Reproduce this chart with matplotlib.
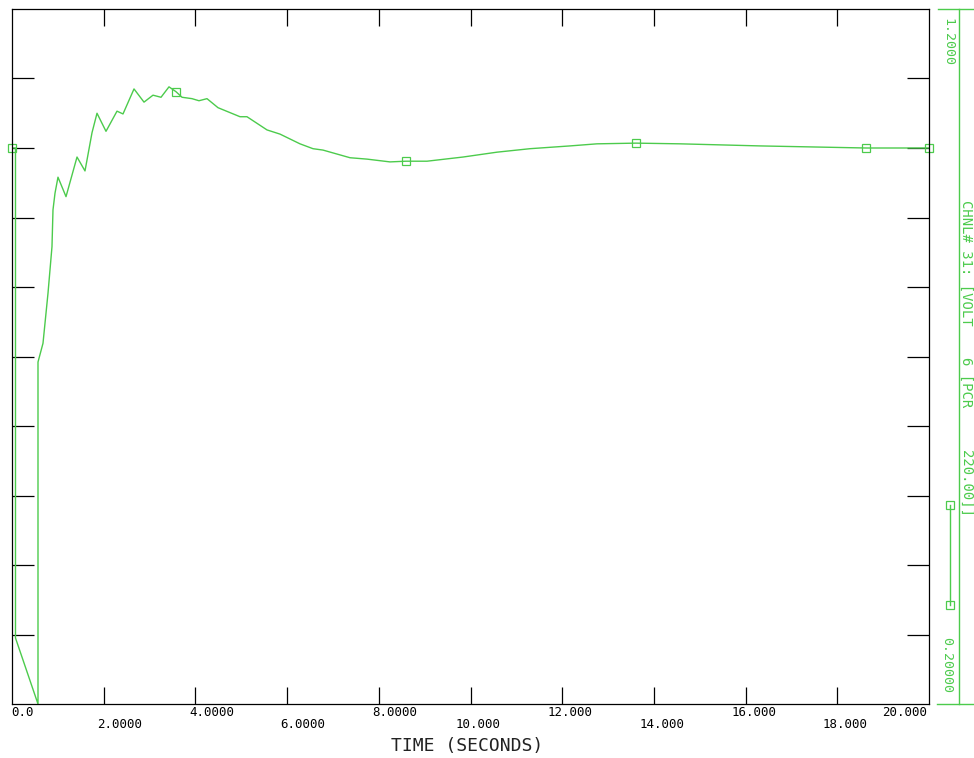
import matplotlib
matplotlib.use('Agg')
import matplotlib.pyplot as plt
from matplotlib.transforms import offset_copy

# response trace (time in seconds, value)
time_s = [0.0, 0.076, 0.076, 0.567, 0.567, 0.676, 0.785, 0.872, 0.894, 0.938,
          1.003, 1.178, 1.418, 1.592, 1.745, 1.854, 2.050, 2.290, 2.421, 2.661,
          2.879, 3.075, 3.250, 3.424, 3.577, 3.708, 3.926, 4.078, 4.253, 4.493,
          4.973, 5.125, 5.562, 5.845, 6.281, 6.565, 6.783, 7.372, 7.743, 8.244,
          8.593, 9.051, 9.836, 10.578, 11.298, 12.170, 12.759, 13.610, 14.570,
          16.314, 18.626, 20.0]
volt = [1.000, 1.000, 0.295, 0.200, 0.692, 0.719, 0.791, 0.858, 0.911, 0.935,
        0.958, 0.930, 0.987, 0.967, 1.022, 1.050, 1.024, 1.053, 1.049, 1.085,
        1.066, 1.076, 1.073, 1.088, 1.081, 1.073, 1.071, 1.068, 1.071, 1.058,
        1.045, 1.045, 1.026, 1.020, 1.006, 0.999, 0.997, 0.986, 0.984, 0.980,
        0.981, 0.981, 0.987, 0.994, 0.999, 1.003, 1.006, 1.007, 1.006,
        1.003, 1.000, 1.000]

mark_t = [0.0, 3.577, 8.593, 13.610, 18.626, 20.0]
mark_v = [1.000, 1.081, 0.981, 1.007, 1.000, 1.000]

x_ticks = [2, 4, 6, 8, 10, 12, 14, 16, 18]
y_ticks = [0.3, 0.4, 0.5, 0.6, 0.7, 0.8, 0.9, 1.0, 1.1]
x_labels = ['0.0', '2.0000', '4.0000', '6.0000', '8.0000', '10.000',
            '12.000', '14.000', '16.000', '18.000', '20.000']
x_label_pos = [0, 2, 4, 6, 8, 10, 12, 14, 16, 18, 20]

y_top_label = '1.2000'
y_bot_label = '0.20000'
chan_parts = ['CHNL# 31: [VOLT', '6 [PCR', '220.00]]']

green = '#4ccb4c'
mono = 'DejaVu Sans Mono'

W, H = 974, 758
fig = plt.figure(figsize=(W / 100, H / 100), dpi=100)
ax = fig.add_axes([12 / W, 54 / H, 917 / W, 695 / H])

ax.plot(time_s, volt, color=green, lw=1.0)
ax.plot(mark_t, mark_v, ls='none', marker='s', ms=5.5, mfc='none',
        mec=green, mew=0.9, clip_on=False)

ax.set_xlim(0, 20)
ax.set_ylim(0.2, 1.2)
for s in ax.spines.values():
    s.set_linewidth(0.9)
    s.set_color('black')
ax.set_xticks(x_ticks)
ax.set_yticks(y_ticks)
ax.tick_params(axis='x', direction='in', length=12.5, width=0.9,
               top=True, bottom=True, labelbottom=False)
ax.tick_params(axis='y', direction='in', length=15.5, width=0.9,
               left=True, right=True, labelleft=False)

# staggered tick labels under the axis
xt = ax.get_xaxis_transform()
for i, (pos, lab) in enumerate(zip(x_label_pos, x_labels)):
    dy = -9 if i % 2 == 0 else -20
    if i == 0:
        tr = offset_copy(xt, fig=fig, x=-1, y=dy, units='dots')
        ha = 'left'
    elif i == len(x_labels) - 1:
        tr = offset_copy(xt, fig=fig, x=-2, y=dy, units='dots')
        ha = 'right'
    else:
        dx = 8 if lab.startswith('1') else 16
        tr = offset_copy(xt, fig=fig, x=dx, y=dy, units='dots')
        ha = 'center'
    ax.text(pos, 0, lab, transform=tr, ha=ha, va='center',
            family=mono, fontsize=9, color='black')

fig.text(467 / W, 1 - 746 / H, 'TIME (SECONDS)', ha='center', va='center',
         family=mono, fontsize=13, color='#222222')

# channel scale strip on the right
side = fig.add_axes([929 / W, 54 / H, 45 / W, 695 / H])
side.set_xlim(929, 974)
side.set_ylim(0.2, 1.2)
side.axis('off')
side.plot([959, 959], [0.2, 1.2], color=green, lw=1.0, clip_on=False)
side.plot([938, 974], [1.2, 1.2], color=green, lw=1.0, clip_on=False)
side.plot([937, 974], [0.2, 0.2], color=green, lw=1.0, clip_on=False)
side.plot([950, 950], [0.486, 0.342], color=green, lw=1.0, marker='s',
          ms=5.5, mfc='none', mec=green, mew=0.9)
side.text(948, 1.2 - 0.013, y_top_label, rotation=-90, ha='center', va='top',
          family=mono, fontsize=9.5, color=green)
side.text(947, 0.2 + 0.016, y_bot_label, rotation=-90, ha='center',
          va='bottom', family=mono, fontsize=9.5, color=green)
chan_tops = [1.2 - 0.275, 1.2 - 0.500, 1.2 - 0.635]
for part, top in zip(chan_parts, chan_tops):
    side.text(966, top, part, rotation=-90, ha='center', va='top',
              family=mono, fontsize=10, color=green)

fig.savefig('out.png', dpi=100)
